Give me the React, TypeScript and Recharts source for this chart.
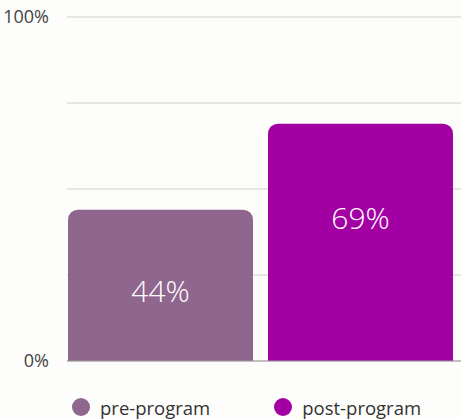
import { BarChart, Bar, XAxis, YAxis, CartesianGrid, Legend, LabelList } from 'recharts';

const categories = ['Participants'];
const preProgram = [44];
const postProgram = [69];
const yTicks = [0, 25, 50, 75, 100];
const seriesOrder = ['pre-program', 'post-program'];

const data = categories.map((c, i) => ({
  name: c,
  pre: preProgram[i],
  post: postProgram[i],
}));

const COLORS = { pre: '#8f668e', post: '#a300a3' };
const FONT = '"Open Sans", sans-serif';

function LegendContent(props: any) {
  const items = [...(props.payload ?? [])].sort(
    (a: any, b: any) => seriesOrder.indexOf(a.value) - seriesOrder.indexOf(b.value)
  );
  return (
    <div style={{ display: 'flex', height: 24, alignItems: 'center', paddingLeft: 72, gap: 64, fontFamily: FONT }}>
      {items.map((item: any) => (
        <div key={item.value} style={{ display: 'flex', alignItems: 'center', gap: 10 }}>
          <span
            style={{
              width: 18,
              height: 18,
              borderRadius: '50%',
              backgroundColor: item.color,
              display: 'inline-block',
            }}
          />
          <span style={{ fontSize: 18.5, color: '#333' }}>{item.value}</span>
        </div>
      ))}
    </div>
  );
}

export default function App() {
  return (
    <div style={{ position: 'fixed', top: 0, left: 0, width: 461, height: 419, background: '#fdfdfb', overflow: 'hidden' }}>
      <BarChart
        width={461}
        height={419}
        data={data}
        margin={{ top: 17, right: 0, bottom: 0, left: 0 }}
        barGap={15}
        barSize={185}
        barCategoryGap={0}
      >
        <CartesianGrid vertical={false} stroke="#d0d0d0" />
        <XAxis
          dataKey="name"
          tick={false}
          tickLine={false}
          axisLine={{ stroke: '#999' }}
          height={34}
          padding={{ left: 0, right: 8 }}
        />
        <YAxis
          domain={[0, 100]}
          ticks={yTicks}
          width={67}
          axisLine={false}
          tickLine={false}
          tickMargin={12}
          tickFormatter={(v: number) => (v === 0 || v === 100 ? `${v}%` : '')}
          tick={{ fill: '#444', fontSize: 18, fontFamily: FONT }}
        />
        <Legend content={<LegendContent />} verticalAlign="bottom" />
        <Bar dataKey="pre" name="pre-program" fill={COLORS.pre} radius={[10, 10, 0, 0]} isAnimationActive={false}>
          <LabelList
            dataKey="pre"
            position="insideTop"
            offset={71}
            formatter={(v: number) => `${v}%`}
            style={{ fill: '#fff', fontSize: 30, fontWeight: 300, fontFamily: FONT }}
          />
        </Bar>
        <Bar dataKey="post" name="post-program" fill={COLORS.post} radius={[10, 10, 0, 0]} isAnimationActive={false}>
          <LabelList
            dataKey="post"
            position="insideTop"
            offset={84}
            formatter={(v: number) => `${v}%`}
            style={{ fill: '#fff', fontSize: 30, fontWeight: 300, fontFamily: FONT }}
          />
        </Bar>
      </BarChart>
    </div>
  );
}
